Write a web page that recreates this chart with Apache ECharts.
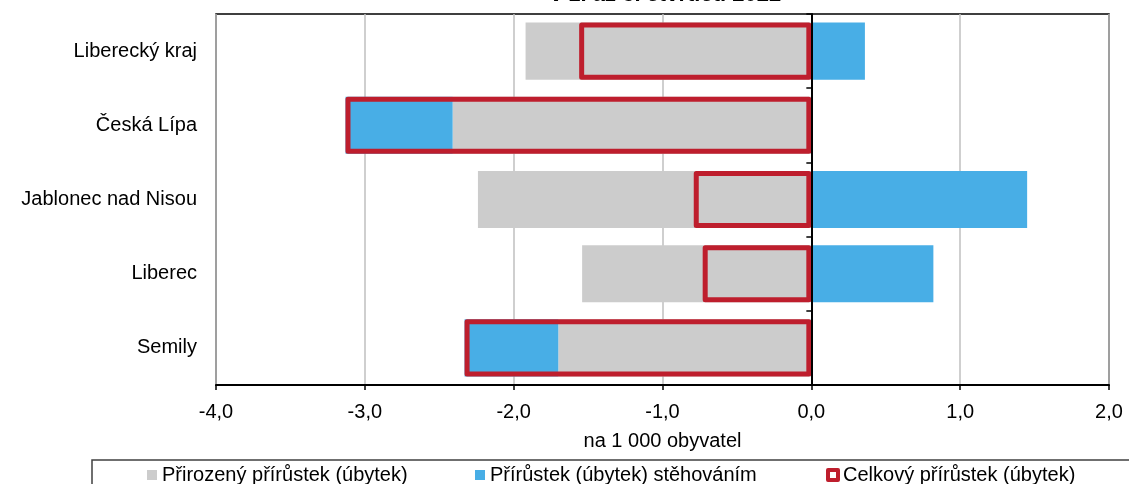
<!DOCTYPE html>
<html>
<head>
<meta charset="utf-8">
<script src="https://cdn.jsdelivr.net/npm/echarts@6/dist/echarts.min.js"></script>
<style>html,body{margin:0;padding:0;background:#fff}#c{width:1129px;height:484px}</style>
</head>
<body>
<div id="c"></div>
<script>
const categories = ['Liberecký kraj', 'Česká Lípa', 'Jablonec nad Nisou', 'Liberec', 'Semily'];
const natural = [-1.92, -2.41, -2.24, -1.54, -1.70];
const migration = [0.36, -0.72, 1.45, 0.82, -0.63];
const total = [-1.56, -3.13, -0.79, -0.73, -2.33];
const seriesNames = ['Přirozený přírůstek (úbytek)', 'Přírůstek (úbytek) stěhováním', 'Celkový přírůstek (úbytek)'];
const titleText = 'v 1. až 3. čtvrtletí 2022';
const axisName = 'na 1 000 obyvatel';
const xMin = -4, xMax = 2;

const FONT = '"Liberation Sans", Arial, sans-serif';
const GRAY = '#CCCCCC', BLUE = '#48AEE6', RED = '#BE1E2D';
const GRID_L = 216, GRID_R = 20, W = 1129;
// offset of the zero line axis from the left grid edge (axis styling)
const zeroOffset = -((0 - xMin) / (xMax - xMin)) * (W - GRID_L - GRID_R);

const chart = echarts.init(document.getElementById('c'), null, {renderer: 'canvas'});
const legendBase = {
  orient: 'horizontal', top: 465, itemWidth: 10, itemHeight: 10, itemGap: 5,
  textStyle: {fontFamily: FONT, fontSize: 20, color: '#000'}, padding: 0, selectedMode: false
};
chart.setOption({
  animation: false,
  title: {
    text: titleText, left: 550, top: -16, padding: 0,
    textStyle: {fontFamily: FONT, fontSize: 22, fontWeight: 'bold', color: '#000'}
  },
  graphic: [{
    type: 'rect', shape: {x: 92, y: 460, width: 1100, height: 100},
    style: {fill: 'none', stroke: '#404040', lineWidth: 1.5}, z: 0
  }],
  legend: [
    Object.assign({}, legendBase, {left: 147, data: [{name: seriesNames[0], icon: 'rect'}]}),
    Object.assign({}, legendBase, {left: 475, data: [{name: seriesNames[1], icon: 'rect'}]}),
    Object.assign({}, legendBase, {left: 826, data: [{name: seriesNames[2], icon: 'rect',
      itemStyle: {color: '#fff', borderColor: RED, borderWidth: 4}}]})
  ],
  grid: {left: GRID_L, right: GRID_R, top: 14, bottom: 99, show: true, borderColor: '#000', borderWidth: 1.5, containLabel: false},
  xAxis: {
    type: 'value', min: xMin, max: xMax, interval: 1,
    name: axisName, nameLocation: 'middle', nameGap: 46,
    nameTextStyle: {fontFamily: FONT, fontSize: 20, color: '#000'},
    axisLine: {show: true, onZero: false, lineStyle: {color: '#000', width: 2}},
    axisTick: {show: true, length: 5, lineStyle: {color: '#000', width: 1.5}},
    axisLabel: {fontFamily: FONT, fontSize: 20, color: '#000', margin: 17,
      formatter: v => v.toFixed(1).replace('.', ',')},
    splitLine: {show: true, lineStyle: {color: '#BFBFBF', width: 1.5}}
  },
  yAxis: [{
    type: 'category', data: categories, inverse: true, position: 'left',
    axisLine: {show: false, onZero: false}, axisTick: {show: false},
    axisLabel: {fontFamily: FONT, fontSize: 20, color: '#000', margin: 19},
    splitLine: {show: false}
  }, {
    type: 'category', data: categories, inverse: true, position: 'left', z: 10,
    offset: zeroOffset,
    axisLine: {show: true, onZero: false, lineStyle: {color: '#000', width: 2}},
    axisTick: {show: true, length: 5, interval: 0, lineStyle: {color: '#000', width: 1.5}},
    axisLabel: {show: false}, splitLine: {show: false}
  }],
  series: [{
    name: seriesNames[0], type: 'bar', stack: 'a', yAxisIndex: 0, data: natural,
    barWidth: '77%', barGap: '-100%', itemStyle: {color: GRAY}
  }, {
    name: seriesNames[1], type: 'bar', stack: 'a', yAxisIndex: 0, data: migration,
    barWidth: '77%', barGap: '-100%', itemStyle: {color: BLUE}
  }, {
    name: seriesNames[2], type: 'bar', yAxisIndex: 0, data: total, z: 3,
    barWidth: '77%', barGap: '-100%',
    itemStyle: {color: 'rgba(0,0,0,0)', borderColor: RED, borderWidth: 5, borderJoin: 'round'}
  }]
});
</script>
</body>
</html>
